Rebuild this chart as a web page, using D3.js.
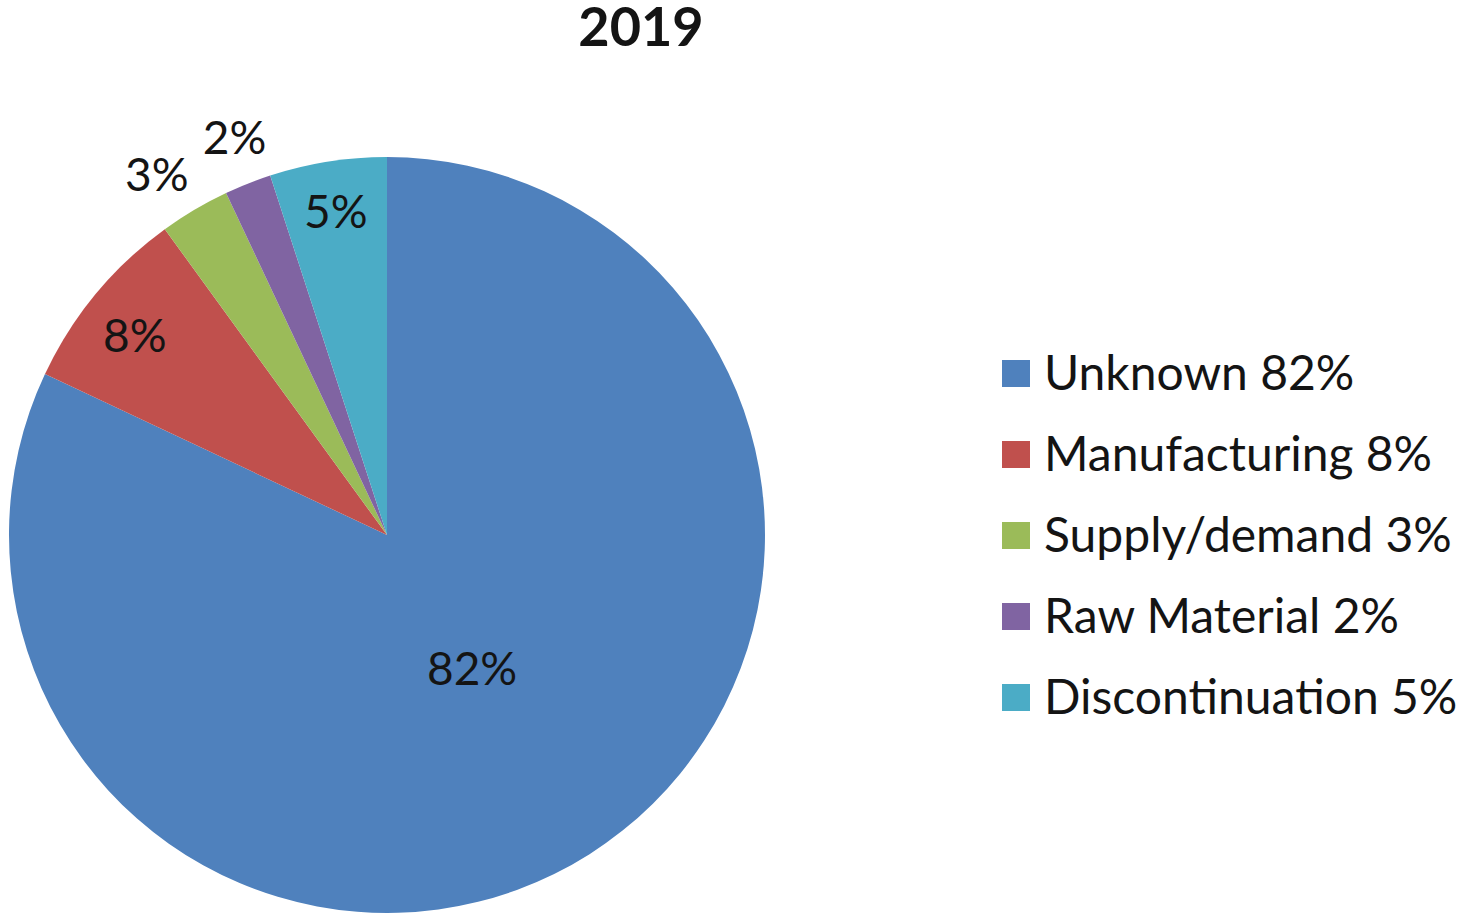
<!DOCTYPE html>
<html>
<head>
<meta charset="utf-8">
<script src="https://cdn.jsdelivr.net/npm/d3@7"></script>
<style>
  html, body { margin: 0; padding: 0; background: #ffffff; }
  svg { display: block; }
  text { font-family: Lato, "Open Sans", sans-serif; fill: #141414; }
</style>
</head>
<body>
<svg id="chart" width="1462" height="916"></svg>
<script>
// Share of shortages by reported cause, 2019
const chartTitle = "2019";
const categories = ["Unknown", "Manufacturing", "Supply/demand", "Raw Material", "Discontinuation"];
const values = [82, 8, 3, 2, 5];
const colors = ["#4F81BD", "#C0504D", "#9BBB59", "#8064A2", "#4BACC6"];
// label placement: distance from the centre (fraction of radius) and angular nudge (degrees)
const labelRadius = [0.42, 0.85, 1.13, 1.125, 0.865];
const labelNudge = [0, -1.3, -2, 0.6, 0];

const svg = d3.select("#chart");
const cx = 387, cy = 535, r = 378;

svg.append("text")
  .attr("x", 641).attr("y", 46)
  .attr("text-anchor", "middle")
  .style("font-size", "54px").style("font-weight", "bold")
  .text(chartTitle);

const pie = d3.pie().sort(null).value(d => d.value);
const arcs = pie(categories.map((c, i) => ({ name: c, value: values[i], i })));
const arc = d3.arc().innerRadius(0).outerRadius(r);

const g = svg.append("g").attr("transform", `translate(${cx},${cy})`);
g.selectAll("path").data(arcs).join("path")
  .attr("d", arc)
  .attr("fill", d => colors[d.data.i]);

g.selectAll("text.lbl").data(arcs).join("text")
  .attr("class", "lbl")
  .attr("transform", d => {
    const a = (d.startAngle + d.endAngle) / 2 + labelNudge[d.data.i] * Math.PI / 180;
    const rr = r * labelRadius[d.data.i];
    return `translate(${Math.sin(a) * rr},${-Math.cos(a) * rr})`;
  })
  .attr("text-anchor", "middle")
  .attr("dy", "0.35em")
  .style("font-size", "46px")
  .text(d => d.data.value + "%");

// legend
const legend = svg.append("g").attr("transform", "translate(1002,373)");
const row = legend.selectAll("g").data(categories).join("g")
  .attr("transform", (d, i) => `translate(0,${i * 81})`);
row.append("rect")
  .attr("x", 0).attr("y", -13).attr("width", 28).attr("height", 27)
  .attr("fill", (d, i) => colors[i]);
row.append("text")
  .attr("x", 42).attr("y", 0).attr("dy", "0.35em")
  .style("font-size", "48px")
  .text((d, i) => `${d} ${values[i]}%`);
</script>
</body>
</html>
